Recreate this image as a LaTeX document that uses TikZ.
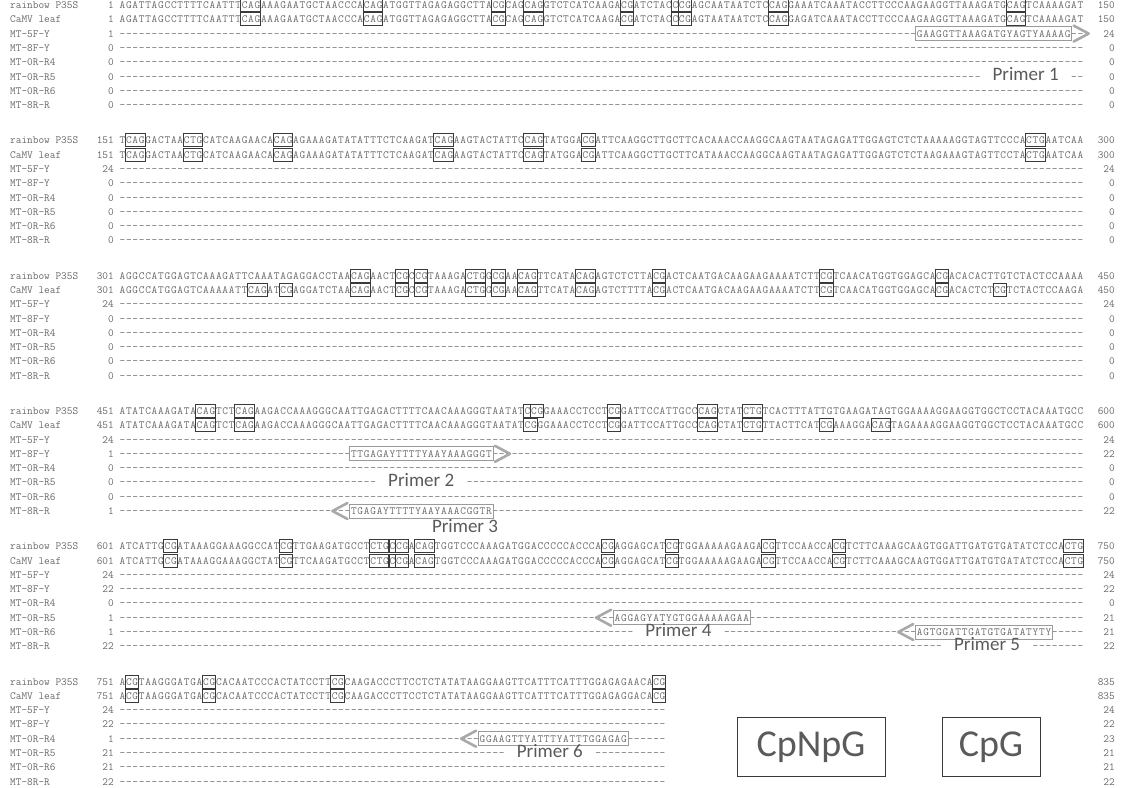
\documentclass[tikz,border=0pt]{standalone}
\usepackage{fontspec}
\newfontfamily\calfont{Carlito}
\usetikzlibrary{calc}
\definecolor{txt}{HTML}{6A6A6A}
\definecolor{bx}{HTML}{3A3A3A}
\definecolor{pg}{HTML}{9A9A9A}
\definecolor{lg}{HTML}{5A5A5A}

\newcommand\cw{6.43}
\newcommand\xo{119}
\newcommand\yo{8.5}
\newcommand\bp{135.3}
\newcommand\rs{14.3}
\newcommand\ry[2]{\yo+#1*\bp+#2*\rs}

\ExplSyntaxOn
\dim_new:N \l_seq_cw_dim
\dim_set:Nn \l_seq_cw_dim {\cw pt}
\tl_new:N \l_seq_str_tl
\tl_new:N \g_seq_box_tl
\cs_new:Npn \dsh #1 { \prg_replicate:nn {#1} {-} }
\cs_new_protected:Npn \spreadseq #1
 {
  \tl_set:Nx \l_seq_str_tl {#1}
  \tl_map_inline:Nn \l_seq_str_tl { \hbox_to_wd:nn {\l_seq_cw_dim} { \hss ##1 \hss } }
 }
\cs_new_protected:Npn \markboxes #1 #2
 {
  \tl_set:Nx \l_seq_str_tl {#1}
  \int_set:Nn \l_tmpa_int { \tl_count:N \l_seq_str_tl }
  \tl_gclear:N \g_seq_box_tl
  \int_step_inline:nnn {1} {\l_tmpa_int - 1}
   {
    \str_if_eq:eeT { \tl_item:Nn \l_seq_str_tl {##1} } { C }
     {
      \str_if_eq:eeTF { \tl_item:Nn \l_seq_str_tl {##1 + 1} } { G }
       { \tl_gput_right:Nn \g_seq_box_tl { \seqbox {##1} {2} {#2} } }
       {
        \int_compare:nNnT { ##1 + 2 } < { \l_tmpa_int + 1 }
         {
          \bool_if:nT
           {
            \str_if_eq_p:ee { \tl_item:Nn \l_seq_str_tl {##1 + 2} } { G }
            && !
            (
             \str_if_eq_p:ee { \tl_item:Nn \l_seq_str_tl {##1 - 1} } { G }
             && \str_if_eq_p:ee { \tl_item:Nn \l_seq_str_tl {##1 - 2} } { C }
            )
           }
           { \tl_gput_right:Nn \g_seq_box_tl { \seqbox {##1} {3} {#2} } }
         }
       }
     }
   }
  \tl_use:N \g_seq_box_tl
 }
\ExplSyntaxOff

\newcommand\seqbox[3]{\draw[cbox] ({\xo+(#1-1)*\cw-0.3},{#3-10}) rectangle ({\xo+(#1-1+#2)*\cw+0.3},{#3+3});}
\newcommand\arow[6]{%
  \node[lab] (#1l) at (10,{#2}) {#3};
  \node[num] (#1n) at ({\xo-5},{#2}) {#4};
  \node[sq] (#1s) at (\xo,{#2}) {\spreadseq{#5}};
  \node[num] (#1r) at (1115,{#2}) {#6};}
% row whose dashes leave a gap for a label: name, y, label, lnum, left part, start col of right part, right part, rnum
\newcommand\arowsplit[8]{%
  \node[lab] (#1l) at (10,{#2}) {#3};
  \node[num] (#1n) at ({\xo-5},{#2}) {#4};
  \node[sq] (#1s) at (\xo,{#2}) {\spreadseq{#5}};
  \node[sq] (#1t) at ({\xo+#6*\cw},{#2}) {\spreadseq{#7}};
  \node[num] (#1r) at (1115,{#2}) {#8};}
\newcommand\srow[6]{\arow{#1}{#2}{#3}{#4}{#5}{#6}\markboxes{#5}{#2}}
\newcommand\pbox[4]{%
  \draw[pbx] ({\xo+(#2-1)*\cw-1},{#4-10.5}) rectangle ({\xo+#3*\cw+1},{#4+3.5});
  \coordinate (#1W) at ({\xo+(#2-1)*\cw-1},{#4-3.5});
  \coordinate (#1E) at ({\xo+#3*\cw+1},{#4-3.5});}
\newcommand\chevR[1]{\draw[chev] ($(#1E)+(2,-8)$) -- ($(#1E)+(17,0)$) -- ($(#1E)+(2,8)$);}
\newcommand\chevL[1]{\draw[chev] ($(#1W)+(-2,-8)$) -- ($(#1W)+(-17,0)$) -- ($(#1W)+(-2,8)$);}

\newcommand\SqRa{AGATTAGCCTTTTCAATTTCAGAAAGAATGCTAACCCACAGATGGTTAGAGAGGCTTACGCAGCAGGTCTCATCAAGACGATCTACCCGAGCAATAATCTCCAGGAAATCAAATACCTTCCCAAGAAGGTTAAAGATGCAGTCAAAAGAT}
\newcommand\SqCa{AGATTAGCCTTTTCAATTTCAGAAAGAATGCTAACCCACAGATGGTTAGAGAGGCTTACGCAGCAGGTCTCATCAAGACGATCTACCCGAGTAATAATCTCCAGGAGATCAAATACCTTCCCAAGAAGGTTAAAGATGCAGTCAAAAGAT}
\newcommand\SqRb{TCAGGACTAACTGCATCAAGAACACAGAGAAAGATATATTTCTCAAGATCAGAAGTACTATTCCAGTATGGACGATTCAAGGCTTGCTTCACAAACCAAGGCAAGTAATAGAGATTGGAGTCTCTAAAAAGGTAGTTCCCACTGAATCAA}
\newcommand\SqCb{TCAGGACTAACTGCATCAAGAACACAGAGAAAGATATATTTCTCAAGATCAGAAGTACTATTCCAGTATGGACGATTCAAGGCTTGCTTCATAAACCAAGGCAAGTAATAGAGATTGGAGTCTCTAAGAAAGTAGTTCCTACTGAATCAA}
\newcommand\SqRc{AGGCCATGGAGTCAAAGATTCAAATAGAGGACCTAACAGAACTCGCCGTAAAGACTGGCGAACAGTTCATACAGAGTCTCTTACGACTCAATGACAAGAAGAAAATCTTCGTCAACATGGTGGAGCACGACACACTTGTCTACTCCAAAA}
\newcommand\SqCc{AGGCCATGGAGTCAAAAATTCAGATCGAGGATCTAACAGAACTCGCCGTAAAGACTGGCGAACAGTTCATACAGAGTCTTTTACGACTCAATGACAAGAAGAAAATCTTCGTCAACATGGTGGAGCACGACACTCTCGTCTACTCCAAGA}
\newcommand\SqRd{ATATCAAAGATACAGTCTCAGAAGACCAAAGGGCAATTGAGACTTTTCAACAAAGGGTAATATCCGGAAACCTCCTCGGATTCCATTGCCCAGCTATCTGTCACTTTATTGTGAAGATAGTGGAAAAGGAAGGTGGCTCCTACAAATGCC}
\newcommand\SqCd{ATATCAAAGATACAGTCTCAGAAGACCAAAGGGCAATTGAGACTTTTCAACAAAGGGTAATATCGGGAAACCTCCTCGGATTCCATTGCCCAGCTATCTGTTACTTCATCGAAAGGACAGTAGAAAAGGAAGGTGGCTCCTACAAATGCC}
\newcommand\SqRe{ATCATTGCGATAAAGGAAAGGCCATCGTTGAAGATGCCTCTGCCGACAGTGGTCCCAAAGATGGACCCCCACCCACGAGGAGCATCGTGGAAAAAGAAGACGTTCCAACCACGTCTTCAAAGCAAGTGGATTGATGTGATATCTCCACTG}
\newcommand\SqCe{ATCATTGCGATAAAGGAAAGGCTATCGTTCAAGATGCCTCTGCCGACAGTGGTCCCAAAGATGGACCCCCACCCACGAGGAGCATCGTGGAAAAAGAAGACGTTCCAACCACGTCTTCAAAGCAAGTGGATTGATGTGATATCTCCACTG}
\newcommand\SqRf{ACGTAAGGGATGACGCACAATCCCACTATCCTTCGCAAGACCCTTCCTCTATATAAGGAAGTTCATTTCATTTGGAGAGAACACG}
\newcommand\SqCf{ACGTAAGGGATGACGCACAATCCCACTATCCTTCGCAAGACCCTTCCTCTATATAAGGAAGTTCATTTCATTTGGAGAGGACACG}

\tikzset{
  mono/.style={inner sep=0pt, font=\fontsize{11}{13}\selectfont\ttfamily, text=txt},
  lab/.style={mono, anchor=base west},
  num/.style={mono, anchor=base east},
  sq/.style={mono, anchor=base west},
  cbox/.style={draw=bx, line width=0.9pt},
  pbx/.style={draw=pg, line width=0.7pt},
  chev/.style={draw=pg!85, line width=2.6pt, line cap=round, line join=round},
  plab/.style={font=\calfont\fontsize{19}{21}\selectfont, text=lg, inner sep=0pt, anchor=base},
  legbox/.style={draw=bx, line width=0.9pt, font=\calfont\fontsize{38}{40}\selectfont, text=lg, inner sep=0pt, minimum height=59pt}
}

\begin{document}
\begin{tikzpicture}[x=1pt,y=-1pt]
\fill[white] (0,0) rectangle (1123,787);
\useasboundingbox (0,0) rectangle (1123,787);

% block 1
\srow{a1}{\ry{0}{0}}{rainbow P35S}{1}{\SqRa}{150}
\srow{a2}{\ry{0}{1}}{CaMV leaf}{1}{\SqCa}{150}
\arow{a3}{\ry{0}{2}}{MT-5F-Y}{1}{\dsh{124}GAAGGTTAAAGATGYAGTYAAAAG\dsh{2}}{24}
\arow{a4}{\ry{0}{3}}{MT-8F-Y}{0}{\dsh{150}}{0}
\arow{a5}{\ry{0}{4}}{MT-0R-R4}{0}{\dsh{150}}{0}
\arowsplit{a6}{\ry{0}{5}}{MT-0R-R5}{0}{\dsh{134}}{148}{\dsh{2}}{0}
\arow{a7}{\ry{0}{6}}{MT-0R-R6}{0}{\dsh{150}}{0}
\arow{a8}{\ry{0}{7}}{MT-8R-R}{0}{\dsh{150}}{0}
% block 2
\srow{b1}{\ry{1}{0}}{rainbow P35S}{151}{\SqRb}{300}
\srow{b2}{\ry{1}{1}}{CaMV leaf}{151}{\SqCb}{300}
\arow{b3}{\ry{1}{2}}{MT-5F-Y}{24}{\dsh{150}}{24}
\arow{b4}{\ry{1}{3}}{MT-8F-Y}{0}{\dsh{150}}{0}
\arow{b5}{\ry{1}{4}}{MT-0R-R4}{0}{\dsh{150}}{0}
\arow{b6}{\ry{1}{5}}{MT-0R-R5}{0}{\dsh{150}}{0}
\arow{b7}{\ry{1}{6}}{MT-0R-R6}{0}{\dsh{150}}{0}
\arow{b8}{\ry{1}{7}}{MT-8R-R}{0}{\dsh{150}}{0}
% block 3
\srow{c1}{\ry{2}{0}}{rainbow P35S}{301}{\SqRc}{450}
\srow{c2}{\ry{2}{1}}{CaMV leaf}{301}{\SqCc}{450}
\arow{c3}{\ry{2}{2}}{MT-5F-Y}{24}{\dsh{150}}{24}
\arow{c4}{\ry{2}{3}}{MT-8F-Y}{0}{\dsh{150}}{0}
\arow{c5}{\ry{2}{4}}{MT-0R-R4}{0}{\dsh{150}}{0}
\arow{c6}{\ry{2}{5}}{MT-0R-R5}{0}{\dsh{150}}{0}
\arow{c7}{\ry{2}{6}}{MT-0R-R6}{0}{\dsh{150}}{0}
\arow{c8}{\ry{2}{7}}{MT-8R-R}{0}{\dsh{150}}{0}
% block 4
\srow{d1}{\ry{3}{0}}{rainbow P35S}{451}{\SqRd}{600}
\srow{d2}{\ry{3}{1}}{CaMV leaf}{451}{\SqCd}{600}
\arow{d3}{\ry{3}{2}}{MT-5F-Y}{24}{\dsh{150}}{24}
\arow{d4}{\ry{3}{3}}{MT-8F-Y}{1}{\dsh{36}TTGAGAYTTTTYAAYAAAGGGT\dsh{92}}{22}
\arow{d5}{\ry{3}{4}}{MT-0R-R4}{0}{\dsh{150}}{0}
\arowsplit{d6}{\ry{3}{5}}{MT-0R-R5}{0}{\dsh{40}}{54}{\dsh{96}}{0}
\arow{d7}{\ry{3}{6}}{MT-0R-R6}{0}{\dsh{150}}{0}
\arow{d8}{\ry{3}{7}}{MT-8R-R}{1}{\dsh{36}TGAGAYTTTTYAAYAAACGGTR\dsh{92}}{22}
% block 5
\srow{e1}{\ry{4}{0}}{rainbow P35S}{601}{\SqRe}{750}
\srow{e2}{\ry{4}{1}}{CaMV leaf}{601}{\SqCe}{750}
\arow{e3}{\ry{4}{2}}{MT-5F-Y}{24}{\dsh{150}}{24}
\arow{e4}{\ry{4}{3}}{MT-8F-Y}{22}{\dsh{150}}{22}
\arow{e5}{\ry{4}{4}}{MT-0R-R4}{0}{\dsh{150}}{0}
\arow{e6}{\ry{4}{5}}{MT-0R-R5}{1}{\dsh{77}AGGAGYATYGTGGAAAAAGAA\dsh{52}}{21}
\arowsplit{e7}{\ry{4}{6}}{MT-0R-R6}{1}{\dsh{80}}{94}{\dsh{30}AGTGGATTGATGTGATATYTY\dsh{5}}{21}
\arowsplit{e8}{\ry{4}{7}}{MT-8R-R}{22}{\dsh{128}}{142}{\dsh{8}}{22}
% block 6
\srow{f1}{\ry{5}{0}}{rainbow P35S}{751}{\SqRf}{835}
\srow{f2}{\ry{5}{1}}{CaMV leaf}{751}{\SqCf}{835}
\arow{f3}{\ry{5}{2}}{MT-5F-Y}{24}{\dsh{85}}{24}
\arow{f4}{\ry{5}{3}}{MT-8F-Y}{22}{\dsh{85}}{22}
\arow{f5}{\ry{5}{4}}{MT-0R-R4}{1}{\dsh{56}GGAAGTTYATTTYATTTGGAGAG\dsh{6}}{23}
\arowsplit{f6}{\ry{5}{5}}{MT-0R-R5}{21}{\dsh{60}}{74}{\dsh{11}}{21}
\arow{f7}{\ry{5}{6}}{MT-0R-R6}{21}{\dsh{85}}{21}
\arow{f8}{\ry{5}{7}}{MT-8R-R}{22}{\dsh{85}}{22}

% primers
\pbox{p1}{125}{148}{\ry{0}{2}} \chevR{p1}
\pbox{p2}{37}{58}{\ry{3}{3}} \chevR{p2}
\pbox{p3}{37}{58}{\ry{3}{7}} \chevL{p3}
\pbox{p4}{78}{98}{\ry{4}{5}} \chevL{p4}
\pbox{p5}{125}{145}{\ry{4}{6}} \chevL{p5}
\pbox{p6}{57}{79}{\ry{5}{4}} \chevL{p6}

\node[plab] (l1) at ({\xo+141*\cw},{\ry{0}{5}+0.5}) {Primer 1};
\node[plab] (l2) at ({\xo+47*\cw},{\ry{3}{5}+0.5}) {Primer 2};
\node[plab] (l3) at (465,{\ry{3}{8.1}+2.5}) {Primer 3};
\node[plab] (l4) at ({\xo+87*\cw},{\ry{4}{6}+0.5}) {Primer 4};
\node[plab] (l5) at ({\xo+135*\cw},{\ry{4}{7}+0.5}) {Primer 5};
\node[plab] (l6) at ({\xo+67*\cw},{\ry{5}{5}+0.5}) {Primer 6};

% legend
\node[legbox, minimum width=148pt] (cpnpg) at (811,747) {CpNpG};
\node[legbox, minimum width=98pt] (cpg) at (991,747) {CpG};
\end{tikzpicture}
\end{document}
